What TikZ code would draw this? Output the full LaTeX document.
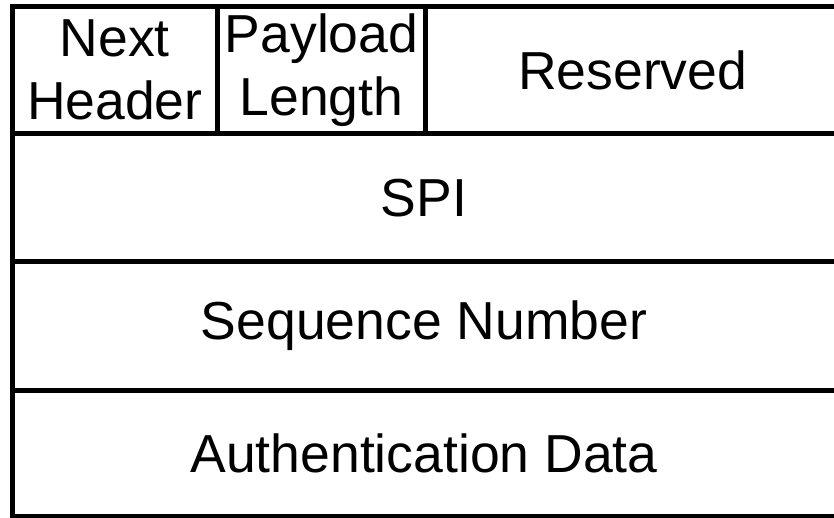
\documentclass[tikz,border=0pt]{standalone}
\usepackage{fontspec}
\setmainfont{Liberation Sans}
\usepackage{tikz}
\usetikzlibrary{positioning}
\tikzstyle{field}=[align=center, inner sep=0pt, font=\fontsize{53.5}{63}\selectfont]
\tikzstyle{rule}=[line width=5pt, line cap=rect]

\begin{document}
\begin{tikzpicture}[x=1pt,y=-1pt]
\useasboundingbox (0,0) rectangle (834,518);
\clip (0,0) rectangle (834,518);
% corners of the frame (the right side lies past the picture)
\coordinate (tl) at (12,6.5);
\coordinate (tr) at (850,6.5);
\coordinate (bl) at (12,516);
\coordinate (br) at (850,516);
\coordinate (r1l) at (12,134);   \coordinate (r1r) at (850,134);
\coordinate (r2l) at (12,262);   \coordinate (r2r) at (850,262);
\coordinate (r3l) at (12,390);   \coordinate (r3r) at (850,390);
\coordinate (c1t) at (217.5,6.5); \coordinate (c1b) at (217.5,134);
\coordinate (c2t) at (425.5,6.5); \coordinate (c2b) at (425.5,134);

\draw[rule] (tr) -- (tl) -- (bl) -- (br);
\draw[rule] (r1l) -- (r1r);
\draw[rule] (r2l) -- (r2r);
\draw[rule] (r3l) -- (r3r);
\draw[rule] (c1t) -- (c1b);
\draw[rule] (c2t) -- (c2b);

% header row
\node[field] at (114.75,70.25) (nexthdr) {Next\\Header};
\node[field] at (321.5,70.25) (paylen) {Payload\\Length};
\node[field] at (632.75,70.25) (resvd) {Reserved};

% one field per row
\node[field] at (424,198) (spi) {SPI};
\node[field] at (424,326) (seqnum) {Sequence Number};
\node[field] at (424,453) (authdata) {Authentication Data};
\end{tikzpicture}
\end{document}
